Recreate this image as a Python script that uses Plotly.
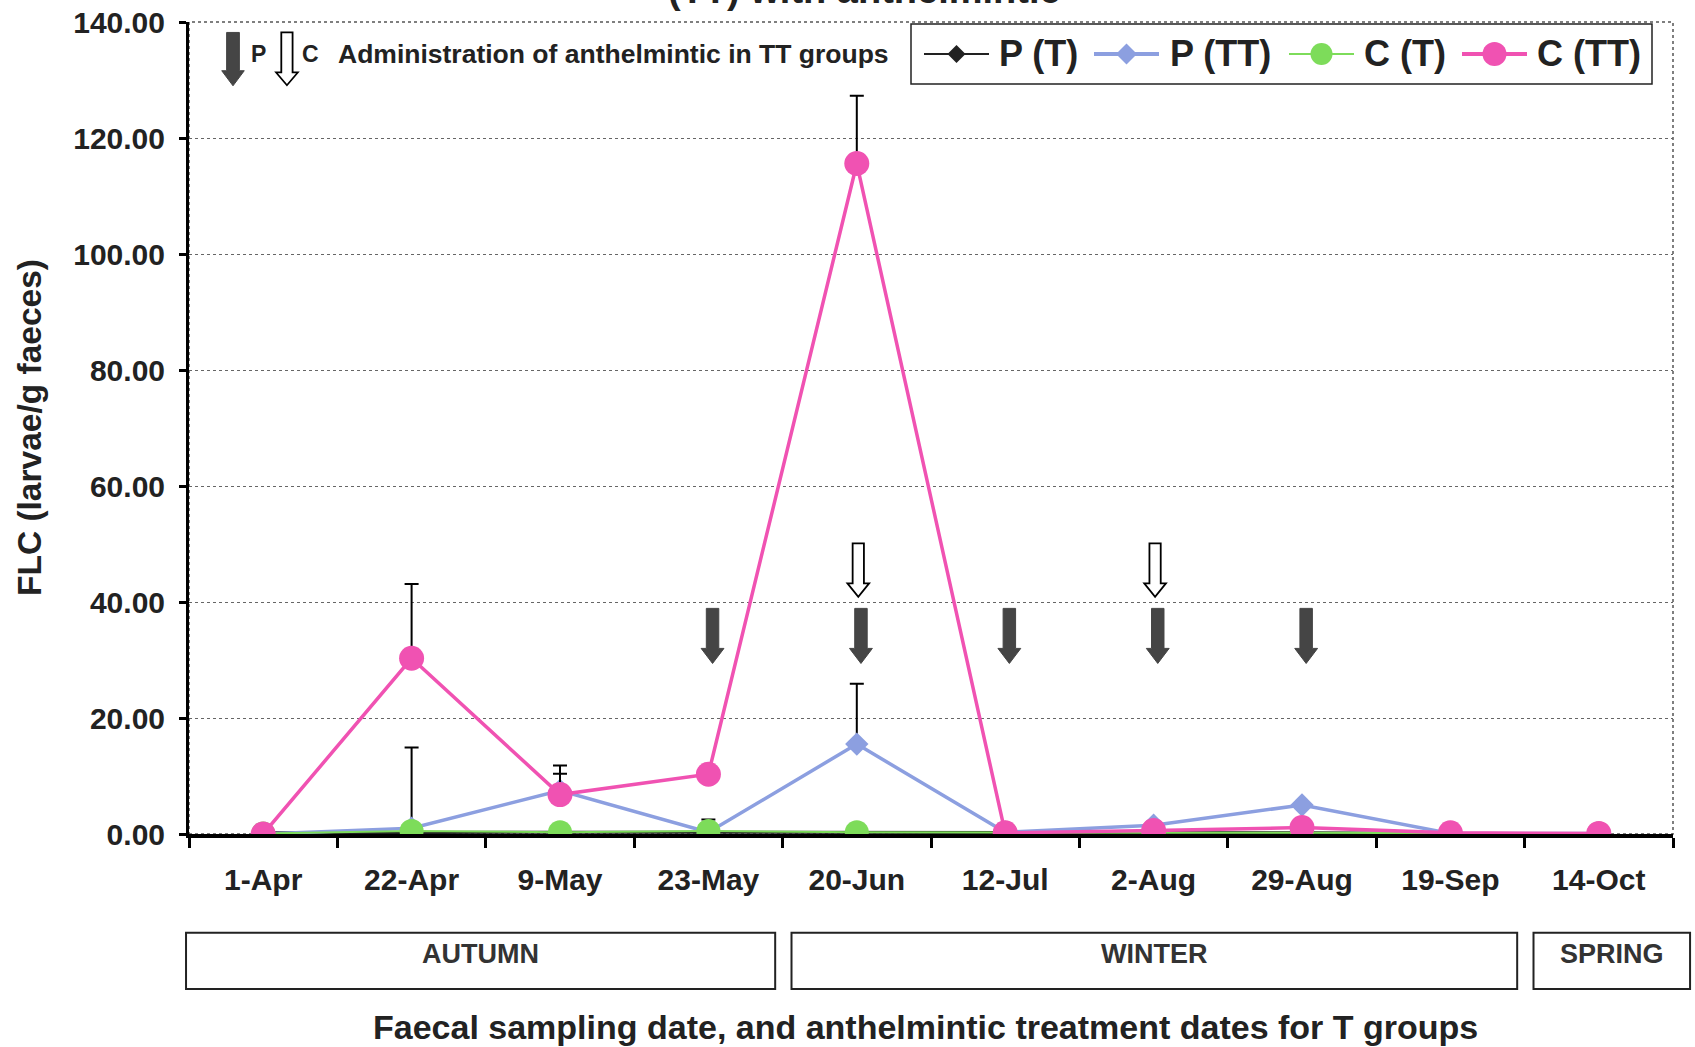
import plotly.graph_objects as go

# ---------------- data ----------------
dates = ["1-Apr", "22-Apr", "9-May", "23-May", "20-Jun", "12-Jul", "2-Aug", "29-Aug", "19-Sep", "14-Oct"]
p_t = [0.2, 0.3, 0.3, 0.3, 0.3, 0.3, 0.3, 0.2, 0.1, 0.1]
p_tt = [0.0, 1.0, 7.5, 0.3, 15.5, 0.3, 1.5, 5.0, 0.1, 0.1]
p_tt_err = [0, 13.9, 2.9, 0, 10.4, 0, 0, 0, 0, 0]
c_t = [0.1, 0.5, 0.3, 0.5, 0.3, 0.2, 0.2, 0.2, 0.1, 0.1]
c_t_err = [0, 0, 0, 2.0, 0, 0, 0, 0, 0, 0]
c_tt = [0.0, 30.3, 6.8, 10.3, 115.6, 0.2, 0.6, 1.1, 0.2, 0.1]
c_tt_err = [0, 12.8, 5.0, 0, 11.7, 0, 0, 0, 0, 0]

series_names = ["P (T)", "P (TT)", "C (T)", "C (TT)"]

p_treatment_dates = ["23-May", "20-Jun", "12-Jul", "2-Aug", "29-Aug"]   # filled arrows (P)
c_treatment_dates = ["20-Jun", "2-Aug"]                               # open arrows (C)

seasons = ["AUTUMN", "WINTER", "SPRING"]
season_first = ["1-Apr", "20-Jun", "14-Oct"]
season_last = ["23-May", "19-Sep", "14-Oct"]

y_ticks = [0, 20, 40, 60, 80, 100, 120, 140]

# ---------------- styling ----------------
FONT = "Liberation Sans, Arial, sans-serif"
PINK = "#f052b2"
BLUE = "#8c9fe0"
GREEN = "#7ddc5a"
BLACK = "#222222"
ARROW_DARK = "#454545"
TXT = "#222222"

colors = [BLACK, BLUE, GREEN, PINK]
symbols = ["diamond", "diamond", "circle", "circle"]
marker_sizes = [12, 18, 24, 25]
line_widths = [3, 3.5, 2, 3.5]
values = [p_t, p_tt, c_t, c_tt]
errors = [None, p_tt_err, c_t_err, c_tt_err]

# plot-area geometry (pixels) for layout helpers
W, H = 1695, 1047
ML, MR, MT, MB = 189, 22, 22, 213
PW = W - ML - MR
PH = H - MT - MB


def px2paper_x(px):
    return (px - ML) / PW


def px2paper_y(py):
    return (H - MB - py) / PH


xs = list(range(len(dates)))
idx = {d: i for i, d in enumerate(dates)}

fig = go.Figure()

for name, vals, err, col, sym, ms, lw in zip(series_names, values, errors, colors, symbols,
                                              marker_sizes, line_widths):
    kw = {}
    if err is not None:
        kw["error_y"] = dict(type="data", array=err, arrayminus=[0] * len(err), symmetric=False,
                             color="black", thickness=2, width=7)
    fig.add_trace(go.Scatter(x=xs, y=vals, name=name, mode="lines+markers",
                             line=dict(color=col, width=lw),
                             marker=dict(symbol=sym, size=ms, color=col), **kw))


def arrow_path(xc, ytop, ybase, ytip, shw, hhw):
    return (f"M{xc - shw},{ytop} L{xc + shw},{ytop} L{xc + shw},{ybase} L{xc + hhw},{ybase} "
            f"L{xc},{ytip} L{xc - hhw},{ybase} L{xc - shw},{ybase} Z")


shapes = []
for d in p_treatment_dates:
    shapes.append(dict(type="path", xref="x", yref="y",
                       path=arrow_path(idx[d] + 0.028, 38.9, 32.0, 29.4, 0.042, 0.077),
                       fillcolor=ARROW_DARK, line=dict(color=ARROW_DARK, width=1)))
for d in c_treatment_dates:
    shapes.append(dict(type="path", xref="x", yref="y",
                       path=arrow_path(idx[d] + 0.01, 50.1, 43.2, 40.9, 0.038, 0.073),
                       fillcolor="white", line=dict(color="black", width=1.8)))

# key arrows top-left
shapes.append(dict(type="path", xref="x", yref="y",
                   path=arrow_path(-0.2035, 138.2, 131.6, 129.0, 0.043, 0.076),
                   fillcolor=ARROW_DARK, line=dict(color=ARROW_DARK, width=1)))
shapes.append(dict(type="path", xref="x", yref="y",
                   path=arrow_path(0.16, 138.2, 131.3, 129.1, 0.038, 0.073),
                   fillcolor="white", line=dict(color="black", width=1.8)))

# dotted plot border (top/right)
shapes.append(dict(type="rect", xref="paper", yref="paper", x0=0, x1=1, y0=0, y1=1,
                   line=dict(color="#555555", width=1.5, dash="dot"), layer="below"))

annotations = []

# ---- custom legend (box, line+marker keys, labels) ----
shapes.append(dict(type="rect", xref="paper", yref="paper",
                   x0=px2paper_x(911), x1=px2paper_x(1652),
                   y0=px2paper_y(84), y1=px2paper_y(24),
                   line=dict(color=TXT, width=1.5), fillcolor="white"))
leg_y = px2paper_y(54)
key_line_start = [924, 1094, 1289, 1462]
key_text_start = [997, 1168, 1362, 1535]
key_len = 65
leg_marker_sizes = [18, 21, 22, 24]
leg_line_widths = [2, 4, 2, 4]
for name, col, sym, lx, tx, ms, lw in zip(series_names, colors, symbols, key_line_start,
                                           key_text_start, leg_marker_sizes, leg_line_widths):
    shapes.append(dict(type="line", xref="paper", yref="paper",
                       x0=px2paper_x(lx), x1=px2paper_x(lx + key_len), y0=leg_y, y1=leg_y,
                       line=dict(color=col, width=lw)))
    cx = px2paper_x(lx + key_len / 2)
    r = ms / 2
    if sym == "circle":
        shapes.append(dict(type="circle", xref="paper", yref="paper",
                           xsizemode="pixel", ysizemode="pixel", xanchor=cx, yanchor=leg_y,
                           x0=-r, x1=r, y0=-r, y1=r, fillcolor=col, line=dict(color=col, width=0)))
    else:
        shapes.append(dict(type="path", xref="paper", yref="paper",
                           xsizemode="pixel", ysizemode="pixel", xanchor=cx, yanchor=leg_y,
                           path=f"M{-r},0 L0,{r} L{r},0 L0,{-r} Z",
                           fillcolor=col, line=dict(color=col, width=0)))
    annotations.append(dict(xref="paper", yref="paper", x=px2paper_x(tx), y=leg_y,
                            text=name, showarrow=False, xanchor="left", yanchor="middle",
                            font=dict(family=FONT, size=36, color=TXT, weight="bold")))

# season boxes
n = len(dates)
for k, (s, a, b) in enumerate(zip(seasons, season_first, season_last)):
    x0 = idx[a] / n + (0.006 if k > 0 else -0.002)
    x1 = (idx[b] + 1) / n - (0.005 if k < len(seasons) - 1 else -0.0115)
    shapes.append(dict(type="rect", xref="paper", yref="paper", x0=x0, x1=x1,
                       y0=-0.191, y1=-0.1215, line=dict(color="#222222", width=2),
                       fillcolor="white"))
    annotations.append(dict(xref="paper", yref="paper", x=(x0 + x1) / 2, y=-0.148,
                            text=s, showarrow=False, xanchor="center", yanchor="middle",
                            font=dict(family=FONT, size=27, color="#333333", weight="bold")))

annotations += [
    dict(xref="x", yref="y", x=-0.03, y=134.4, text="P", showarrow=False, xanchor="center",
         yanchor="middle", font=dict(family=FONT, size=23, color=TXT, weight="bold")),
    dict(xref="x", yref="y", x=0.322, y=134.4, text="C", showarrow=False, xanchor="center",
         yanchor="middle", font=dict(family=FONT, size=23, color=TXT, weight="bold")),
    dict(xref="x", yref="y", x=0.49, y=134.4, text="Administration of anthelmintic in TT groups",
         showarrow=False, xanchor="left", yanchor="middle",
         font=dict(family=FONT, size=26.5, color=TXT, weight="bold")),
    dict(xref="paper", yref="paper", x=-0.1078, y=0.5, text="FLC (larvae/g faeces)",
         textangle=-90, showarrow=False, xanchor="center", yanchor="middle",
         font=dict(family=FONT, size=33.5, color=TXT, weight="bold")),
    dict(xref="paper", yref="paper", x=0.4966, y=-0.238,
         text="Faecal sampling date, and anthelmintic treatment dates for T groups",
         showarrow=False, xanchor="center", yanchor="middle",
         font=dict(family=FONT, size=34, color=TXT, weight="bold")),
    dict(xref="paper", yref="paper", x=0.4555, y=1.0115, text="(TT) with anthelmintic",
         showarrow=False, xanchor="center", yanchor="bottom",
         font=dict(family=FONT, size=38, color=TXT, weight="bold")),
]

fig.update_layout(
    width=W, height=H,
    margin=dict(l=ML, r=MR, t=MT, b=MB, autoexpand=False),
    paper_bgcolor="white", plot_bgcolor="white",
    shapes=shapes, annotations=annotations,
    showlegend=False,
    xaxis=dict(range=[-0.5, 9.5], tickmode="array", tickvals=xs, ticktext=dates,
               ticks="", showgrid=False, zeroline=False, automargin=False,
               showline=True, linecolor="black", linewidth=4,
               tickfont=dict(family=FONT, size=30, color=TXT, weight="bold"),
               ticklabelstandoff=16,
               minor=dict(tick0=0.5, dtick=1, ticks="outside", ticklen=10, tickwidth=3,
                          tickcolor="black", showgrid=False)),
    yaxis=dict(range=[0, 140], tickmode="array", tickvals=y_ticks,
               ticktext=[f"{v:.2f}" for v in y_ticks], automargin=False,
               ticks="outside", ticklen=7, tickwidth=3, tickcolor="black",
               showgrid=True, gridcolor="#666666", griddash="dot", gridwidth=1,
               zeroline=False, showline=True, linecolor="black", linewidth=3,
               tickfont=dict(family=FONT, size=30, color=TXT, weight="bold"),
               ticklabelstandoff=8),
)

fig.write_html("out.html")
